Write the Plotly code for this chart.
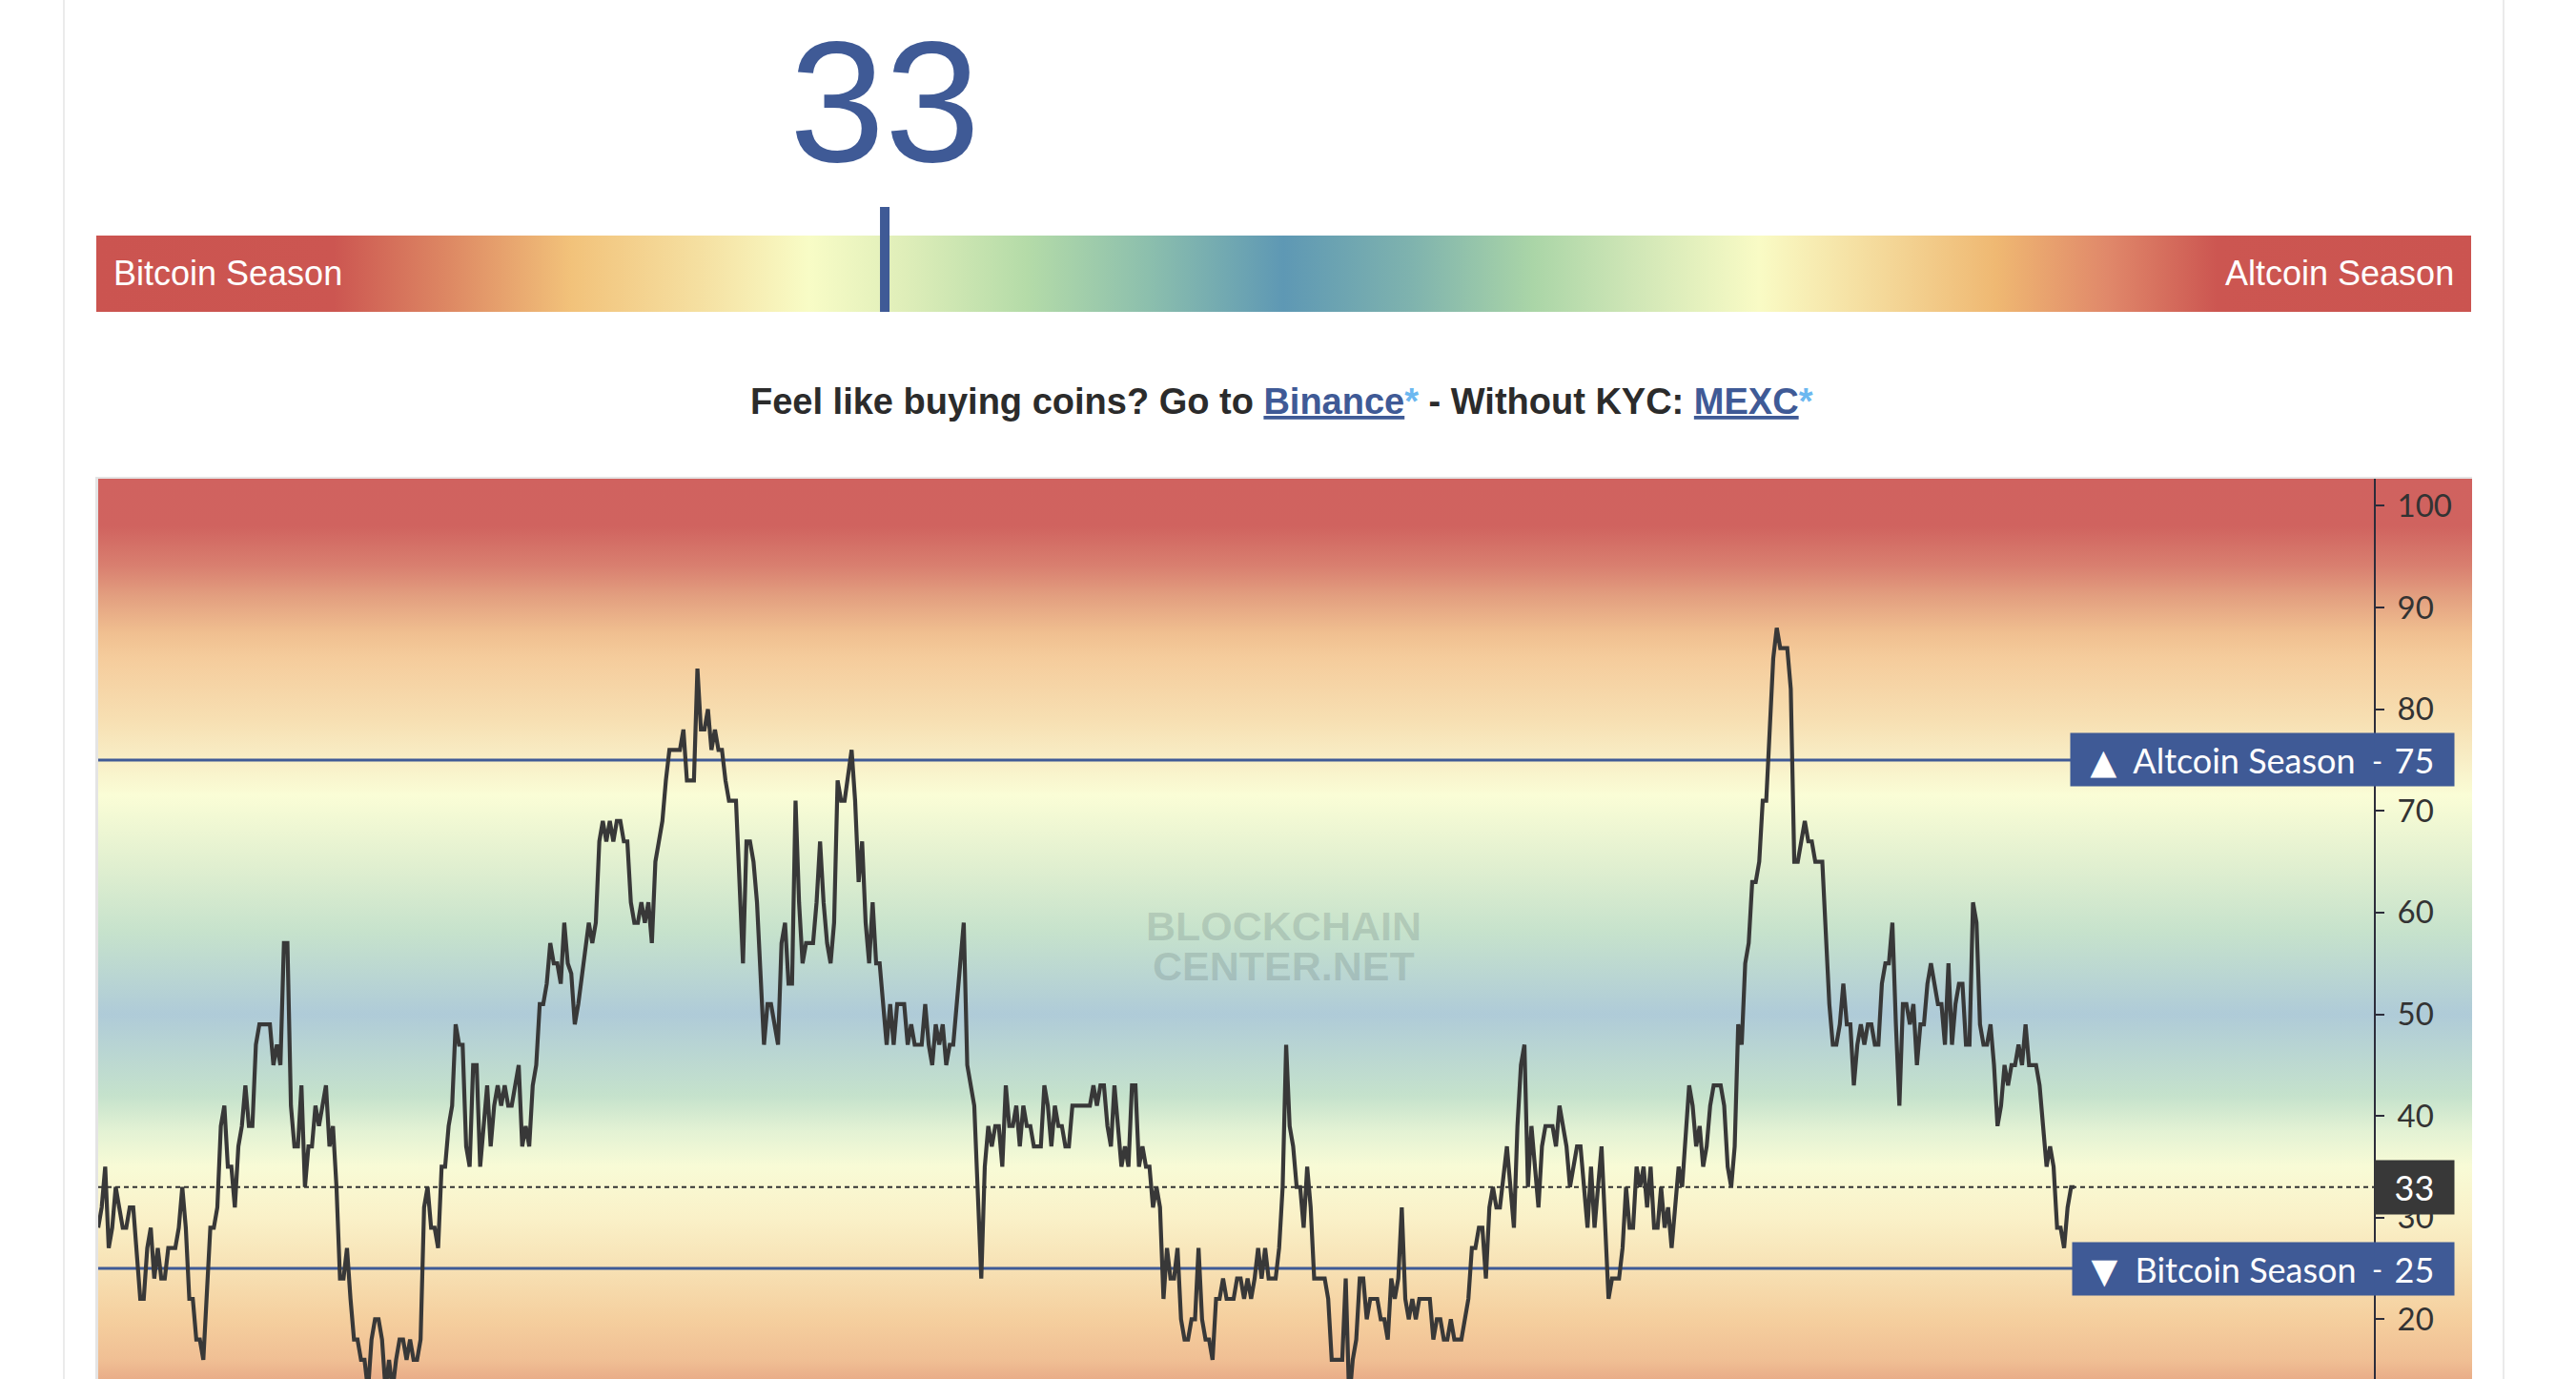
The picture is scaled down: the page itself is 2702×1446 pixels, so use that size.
import base64
import plotly.graph_objects as go

# altcoin season index, read at the turning points of the line (day number -> value)
day = [0, 1, 2, 3, 4, 5, 6, 7, 8, 9, 10, 11, 12, 13, 14, 15, 16, 17, 18, 19, 20, 22, 23, 24, 25, 26, 27, 28, 29, 30,
       32, 33, 34, 35, 36, 37, 38, 39, 40, 41, 42, 43, 44, 45, 46, 49, 50, 51, 52, 53, 54, 55, 56, 57, 58, 59, 60,
       61, 62, 63, 65, 66, 67, 68, 69, 70, 71, 72, 73, 74, 75, 76, 77, 78, 79, 80, 81, 82, 83, 84, 85, 86, 87, 88,
       89, 90, 91, 92, 93, 94, 95, 96, 97, 98, 99, 100, 101, 102, 103, 104, 105, 106, 107, 108, 109, 111, 112, 113,
       114, 115, 116, 117, 118, 120, 121, 122, 123, 124, 125, 126, 127, 128, 129, 130, 131, 132, 133, 134, 135, 136,
       137, 140, 141, 142, 143, 144, 145, 146, 147, 148, 149, 150, 151, 152, 153, 154, 155, 156, 157, 158, 159, 160,
       161, 162, 163, 166, 167, 168, 170, 171, 172, 173, 174, 175, 176, 177, 178, 179, 180, 182, 184, 185, 186, 187,
       188, 190, 191, 192, 194, 195, 196, 197, 198, 199, 200, 201, 202, 204, 205, 206, 207, 208, 209, 210, 211, 212,
       213, 215, 216, 217, 218, 219, 220, 221, 222, 223, 225, 226, 227, 228, 230, 231, 232, 233, 235, 236, 237, 238,
       239, 240, 241, 242, 243, 244, 247, 248, 250, 252, 253, 254, 255, 256, 257, 258, 259, 260, 261, 262, 263, 264,
       265, 266, 267, 269, 270, 271, 272, 273, 274, 275, 276, 277, 278, 283, 284, 285, 286, 287, 288, 289, 290, 291,
       292, 293, 294, 295, 296, 297, 298, 299, 300, 301, 302, 303, 304, 305, 306, 307, 308, 309, 310, 311, 312, 313,
       314, 315, 316, 317, 318, 319, 320, 321, 322, 324, 325, 326, 327, 328, 329, 330, 331, 332, 333, 334, 336, 337,
       338, 339, 340, 341, 342, 343, 344, 345, 346, 347, 350, 351, 352, 355, 356, 357, 358, 359, 360, 361, 362, 363,
       365, 366, 367, 368, 369, 370, 371, 372, 373, 374, 375, 376, 377, 380, 381, 382, 383, 384, 385, 386, 387, 389,
       391, 392, 393, 394, 395, 396, 397, 398, 399, 400, 402, 403, 404, 405, 406, 407, 408, 409, 410, 411, 412, 413,
       415, 416, 417, 419, 420, 422, 423, 425, 426, 427, 429, 431, 432, 434, 435, 436, 437, 438, 439, 440, 441, 442,
       443, 444, 445, 446, 447, 448, 449, 451, 452, 454, 455, 456, 457, 458, 459, 460, 461, 463, 464, 465, 466, 467,
       468, 469, 470, 471, 472, 473, 474, 475, 476, 477, 478, 479, 480, 482, 483, 484, 485, 487, 488, 489, 490, 492,
       494, 495, 496, 497, 498, 499, 500, 501, 502, 503, 504, 505, 506, 507, 508, 509, 510, 511, 512, 513, 514, 515,
       516, 517, 518, 519, 520, 521, 522, 523, 524, 525, 526, 527, 528, 529, 530, 531, 532, 533, 534, 535, 536, 537,
       538, 539, 540, 541, 542, 543, 544, 545, 546, 547, 548, 549, 550, 551, 553, 554, 555, 556, 557, 558, 559, 560,
       561, 562, 563, 564]
index_value = [29, 31, 35, 27, 29, 33, 31, 29, 29, 31, 31, 27, 22, 22, 27, 29, 24, 27, 24, 24, 27, 27, 29, 33, 29,
               22, 22, 18, 18, 16,
               29, 29, 31, 39, 41, 35, 35, 31, 37, 39, 43, 39, 39, 47, 49, 49, 45, 47, 45, 57, 57, 41, 37, 37, 43, 33,
               37, 37, 41, 39, 43, 37, 39, 33, 24, 24, 27, 22, 18, 18, 16, 16, 13, 18, 20, 20, 18, 13, 16, 13, 16, 18,
               18, 16, 18, 16, 16, 18, 31, 33, 29, 29, 27, 35, 35, 39, 41, 49, 47, 47, 37, 35, 45, 45, 35, 43, 37, 41,
               43, 41, 43, 41, 41, 45, 37, 39, 37, 43, 45, 51, 51, 53, 57, 55, 55, 53, 59, 55, 54, 49,
               51, 59, 57, 59, 67, 69, 67, 69, 67, 69, 69, 67, 67, 61, 59, 59, 61, 59, 61, 57, 65, 67,
               69, 73, 76, 76, 78, 73, 73, 84, 78, 78, 80, 76, 78, 76, 76, 73, 71, 71, 55, 67, 67, 65,
               61, 47, 51, 51, 47, 57, 59, 53, 53, 71, 61, 55, 57, 57, 61, 67, 61, 57, 55, 59, 73, 71,
               71, 76, 71, 63, 67, 59, 55, 61, 55, 55, 47, 51, 47, 51, 51, 47, 49, 47, 47, 51, 47, 45,
               49, 47, 49, 45, 47, 47, 59, 45, 41, 24, 35, 39, 37, 39, 39, 35, 43, 39, 39, 41, 37, 41,
               39, 39, 37, 37, 43, 41, 37, 41, 39, 39, 37, 37, 41, 41, 43, 41, 43, 43, 39, 37, 43, 39,
               35, 37, 35, 43, 43, 35, 37, 35, 35, 31, 33, 31, 22, 27, 24, 24, 27, 20, 18, 18, 20, 20,
               27, 20, 18, 18, 16, 22, 22, 24, 22, 22, 24, 24, 22, 24, 22, 24, 27, 24, 27, 24, 24, 27,
               33, 47, 39, 37, 33, 33, 29, 35, 31, 24, 24, 22, 16, 16, 24, 12, 16, 18, 24, 24, 20, 22,
               22, 20, 20, 18, 24, 22, 24, 31, 22, 20, 22, 20, 22, 22, 18, 20, 20, 18, 18, 20, 18, 18,
               22, 27, 27, 29, 29, 24, 31, 33, 31, 31, 37, 33, 29, 39, 45, 47, 33, 39, 35, 31, 37, 39,
               39, 37, 41, 37, 33, 37, 37, 29, 35, 29, 37, 22, 24, 24, 27, 33, 29, 29, 35, 33, 35, 31,
               35, 29, 29, 33, 29, 31, 27, 35, 33, 43, 41, 37, 39, 35, 37, 41, 43, 43, 41, 35, 33, 37,
               49, 47, 55, 57, 63, 63, 65, 71, 71, 78, 85, 88, 86, 86, 82, 65, 65, 69, 67, 67, 65, 65,
               51, 47, 47, 49, 53, 49, 49, 43, 47, 49, 47, 49, 49, 47, 47, 53, 55, 55, 59, 49, 41, 51,
               51, 49, 51, 45, 49, 49, 53, 55, 53, 51, 51, 47, 55, 47, 51, 53, 53, 47, 47, 61, 59, 49,
               47, 47, 49, 45, 39, 41, 45, 43, 45, 45, 47, 45, 49, 45, 45, 43, 39, 35, 37, 35, 29, 29,
               27, 31, 33, 33]

current = index_value[-1]
altcoin_level = 75
bitcoin_level = 25
y_ticks = [20, 30, 40, 50, 60, 70, 80, 90, 100]

W, H = 2702, 1446
BLUE = '#3f5a96'
Y_TOP, Y_BOTTOM = 102.67, 14.12
X_END = 649.4

# colour stops of the page art (bar across 0..1, chart background by index level)
bar_stops = [(0.0, '#cb5450'), (0.10, '#cc5651'), (0.15, '#de8a64'), (0.20, '#f2c27a'), (0.253, '#f5dfa0'),
             (0.30, '#f8fcc6'), (0.34, '#dfeeb9'), (0.392, '#b4dba8'), (0.443, '#8cbfad'), (0.50, '#5e98b4'),
             (0.554, '#7fb3ae'), (0.605, '#aad5a7'), (0.647, '#cfe6b6'), (0.70, '#f9fbc5'), (0.744, '#f5dea0'),
             (0.80, '#efb872'), (0.847, '#e0886a'), (0.893, '#cc5651'), (1.0, '#cb5450')]
bg_stops = [(103, '#d0625f'), (98, '#d0635f'), (94, '#d98070'), (91, '#e3a080'), (87.5, '#f0bf90'),
            (85, '#f5cc9c'), (79, '#f7dfb2'), (75, '#f8eec6'), (71.5, '#fafdd6'), (65, '#e2f0d0'),
            (58, '#c6e2cc'), (50, '#afcbd8'), (42, '#c5e2cc'), (38.5, '#e3f2d4'), (35, '#f8fbd6'),
            (30, '#faf1c8'), (25, '#f7e1b4'), (20, '#f5cf9e'), (16, '#f0bf94'), (14, '#e9ad88')]


def gradient_uri(stops, vertical):
    x2, y2 = ('0', '1') if vertical else ('1', '0')
    tags = ''.join(f'<stop offset="{o:.4f}" stop-color="{c}"/>' for o, c in stops)
    svg = ('<svg xmlns="http://www.w3.org/2000/svg" width="100" height="100" viewBox="0 0 100 100" '
           'preserveAspectRatio="none"><defs>'
           f'<linearGradient id="g" x1="0" y1="0" x2="{x2}" y2="{y2}">{tags}</linearGradient></defs>'
           '<rect width="100" height="100" fill="url(#g)"/></svg>')
    return 'data:image/svg+xml;base64,' + base64.b64encode(svg.encode()).decode()


chart_stops = [(max(0.0, min(1.0, (Y_TOP - v) / (Y_TOP - Y_BOTTOM))), c) for v, c in bg_stops]

fig = go.Figure()

# index line
fig.add_trace(go.Scatter(x=day, y=index_value, mode='lines',
                         line=dict(color='#383838', width=4.2), hoverinfo='skip', showlegend=False))

fig.update_layout(
    width=W, height=H,
    margin=dict(l=0, r=0, t=0, b=0),
    paper_bgcolor='white',
    plot_bgcolor='rgba(0,0,0,0)',
    showlegend=False,
    xaxis=dict(domain=[103 / W, 2490 / W], range=[0, X_END], visible=False, anchor='y'),
    yaxis=dict(domain=[0, 1 - 502 / H], range=[Y_BOTTOM, Y_TOP], side='right', anchor='x',
               showline=True, linecolor='#2c2c3a', linewidth=2,
               ticks='outside', ticklen=9, tickwidth=2, tickcolor='#2c2c3a',
               tickvals=y_ticks, tickfont=dict(family='Lato', size=33, color='#333333'),
               ticklabelstandoff=7, showgrid=False, zeroline=False),
    # 0..100 scale of the season bar
    xaxis2=dict(domain=[101 / W, 2592 / W], range=[0, 100], visible=False, anchor='y2'),
    yaxis2=dict(domain=[1 - 327 / H, 1 - 217 / H], range=[0, 110], visible=False, anchor='x2'),
)

fig.add_layout_image(dict(source=gradient_uri(chart_stops, True), xref='paper', yref='paper',
                          x=103 / W, y=1 - 502 / H, sizex=(2593 - 103) / W, sizey=1 - 502 / H,
                          xanchor='left', yanchor='top', sizing='stretch', layer='below'))
fig.add_layout_image(dict(source=gradient_uri(bar_stops, False), xref='paper', yref='paper',
                          x=101 / W, y=1 - 247 / H, sizex=(2592 - 101) / W, sizey=80 / H,
                          xanchor='left', yanchor='top', sizing='stretch', layer='below'))

# marker of the current value on the season bar
fig.add_shape(type='rect', xref='x2', yref='y2', xsizemode='pixel', xanchor=current, x0=0, x1=10,
              y0=0, y1=110, fillcolor=BLUE, line=dict(width=0), layer='above')

# page and chart borders
for px in (67, 2626):
    fig.add_shape(type='line', xref='paper', yref='paper', x0=px / W, x1=px / W, y0=0, y1=1,
                  line=dict(color='#ebebeb', width=2), layer='below')
fig.add_shape(type='line', xref='paper', yref='paper', x0=101.5 / W, x1=101.5 / W, y0=0, y1=1 - 500 / H,
              line=dict(color='#e4e4e4', width=3), layer='below')
fig.add_shape(type='line', xref='paper', yref='paper', x0=100 / W, x1=2593 / W, y0=1 - 501 / H, y1=1 - 501 / H,
              line=dict(color='#e4e4e4', width=2), layer='below')

# season thresholds and current level
for level in (altcoin_level, bitcoin_level):
    fig.add_shape(type='line', xref='paper', yref='y', x0=103 / W, x1=2490 / W, y0=level, y1=level,
                  line=dict(color=BLUE, width=3), layer='below')
fig.add_shape(type='line', xref='paper', yref='y', x0=103 / W, x1=2490 / W, y0=current, y1=current,
              line=dict(color='#333333', width=1.8, dash='5px,4px'), layer='below')

# watermark
for txt, lvl in (('BLOCKCHAIN', 58.66), ('CENTER.NET', 54.74)):
    fig.add_annotation(text=txt, xref='paper', yref='y', x=1346 / W, y=lvl, showarrow=False,
                       font=dict(family='Liberation Sans', size=43, color='rgba(90,110,110,0.22)', weight='bold'))

# price-line labels on the right
label_font = dict(family='Lato', size=36, color='white')
tri = "<span style='font-family:DejaVu Sans;font-size:36px'>{}</span>"
for level, title, left in ((altcoin_level, tri.format('\u25B2') + '\u00a0 Altcoin Season', 2171),
                           (bitcoin_level, tri.format('\u25BC') + '\u00a0 Bitcoin Season', 2173)):
    fig.add_annotation(text=title, xref='paper', yref='y', x=left / W, y=level, xanchor='left', yanchor='middle',
                       width=2490 - left, height=55, bgcolor=BLUE, borderpad=0, align='center',
                       showarrow=False, font=label_font)
    fig.add_annotation(text=str(level), xref='paper', yref='y', x=2490 / W, y=level, xanchor='left',
                       yanchor='middle', width=83, height=55, bgcolor=BLUE, borderpad=0, align='center',
                       showarrow=False, font=label_font)
    fig.add_annotation(text='-', xref='paper', yref='y', x=2493 / W, y=level, xanchor='center',
                       yanchor='middle', showarrow=False, font=dict(family='Lato', size=30, color='white'))
fig.add_annotation(text=str(current), xref='paper', yref='y', x=2490 / W, y=current, xanchor='left',
                   yanchor='middle', width=83, height=56, bgcolor='#383838', borderpad=0, align='center',
                   showarrow=False, font=label_font)

# header: current value, season bar labels, promo line
fig.add_annotation(text=str(current), xref='x2', yref='paper', x=current, xshift=5, y=1 - 107 / H,
                   xanchor='center', yanchor='middle', showarrow=False,
                   font=dict(family='Liberation Sans', size=180, color=BLUE))
fig.add_annotation(text='Bitcoin Season', xref='x2', yref='paper', x=0, xshift=16, y=1 - 287 / H,
                   xanchor='left', yanchor='middle', showarrow=False,
                   font=dict(family='Liberation Sans', size=36, color='white'))
fig.add_annotation(text='Altcoin Season', xref='x2', yref='paper', x=100, xshift=-16, y=1 - 287 / H,
                   xanchor='right', yanchor='middle', showarrow=False,
                   font=dict(family='Liberation Sans', size=36, color='white'))
promo = ("<b>Feel like buying coins? Go to <span style='color:#3f5a96'><u>Binance</u></span>"
         "<span style='color:#6cb8f0'>*</span> - Without KYC: "
         "<span style='color:#3f5a96'><u>MEXC</u></span><span style='color:#6cb8f0'>*</span></b>")
fig.add_annotation(text=promo, xref='paper', yref='paper', x=1344.5 / W, y=1 - 421 / H, xanchor='center',
                   yanchor='middle', showarrow=False,
                   font=dict(family='Liberation Sans', size=38, color='#2b2b2b'))

fig.write_html("out.html", config={'displayModeBar': False},
               post_script="document.body.style.margin='0px';")
